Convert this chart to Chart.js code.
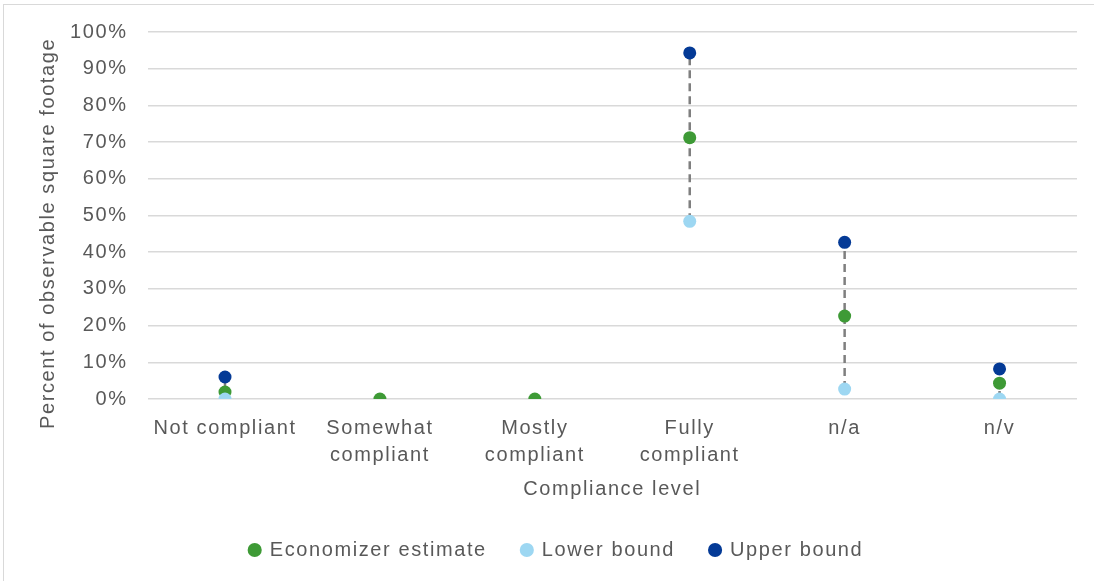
<!DOCTYPE html>
<html>
<head>
<meta charset="utf-8">
<script src="https://cdn.jsdelivr.net/npm/chart.js@4/dist/chart.umd.min.js"></script>
<style>
  html, body { margin: 0; padding: 0; background: #ffffff; }
  #wrap { position: relative; width: 1094px; height: 581px; }
  #frame { position: absolute; left: 3px; top: 4px; right: 0; bottom: 0;
           border-top: 1px solid #d9d9d9; border-left: 1px solid #d9d9d9; }
  canvas { position: absolute; left: 0; top: 0; }
</style>
</head>
<body>
<div id="wrap">
  <div id="frame"></div>
  <canvas id="chart" width="1094" height="581"></canvas>
</div>
<script>
// Compliance categories (multi-line labels are arrays)
const categories = [
  'Not compliant',
  ['Somewhat', 'compliant'],
  ['Mostly', 'compliant'],
  ['Fully', 'compliant'],
  'n/a',
  'n/v'
];

// Percent of observable square footage
const economizerEstimate = [1.9, 0, 0, 71.2, 22.6, 4.3];
const lowerBound = [0, null, null, 48.4, 2.7, 0];
const upperBound = [6.0, null, null, 94.3, 42.7, 8.2];

const yTicks = [0, 10, 20, 30, 40, 50, 60, 70, 80, 90, 100];

const textColor = '#595959';
const gridColor = '#d9d9d9';
const fontFamily = '"Liberation Sans", Arial, sans-serif';

// Dashed range connectors from lower to upper bound for each category
const connectors = [];
categories.forEach((c, i) => {
  if (lowerBound[i] != null && upperBound[i] != null) {
    connectors.push({
      type: 'line',
      label: 'range-' + i,
      data: [{ x: c, y: lowerBound[i] }, { x: c, y: upperBound[i] }],
      borderColor: '#7f7f7f',
      borderWidth: 2.5,
      borderDash: [8, 5],
      pointRadius: 0,
      pointHoverRadius: 0,
      order: 10,
      isConnector: true
    });
  }
});

const pointSet = (label, data, color, order) => ({
  label: label,
  data: data,
  showLine: false,
  pointStyle: 'circle',
  pointRadius: 6.5,
  pointHoverRadius: 6.5,
  pointBackgroundColor: color,
  pointBorderColor: color,
  backgroundColor: color,
  borderColor: color,
  borderWidth: 0,
  pointBorderWidth: 0,
  order: order
});

// Slightly spaced lettering for all chart text (applied while measuring and drawing)
const LETTER_SPACING = '1.6px';
const spacing = {
  id: 'spacing',
  beforeInit(chart) { chart.ctx.letterSpacing = LETTER_SPACING; },
  beforeUpdate(chart) { chart.ctx.letterSpacing = LETTER_SPACING; },
  beforeLayout(chart) { chart.ctx.letterSpacing = LETTER_SPACING; },
  beforeDraw(chart) { chart.ctx.letterSpacing = LETTER_SPACING; }
};

new Chart(document.getElementById('chart'), {
  type: 'line',
  data: {
    labels: categories,
    datasets: [
      pointSet('Economizer estimate', economizerEstimate, '#3e9a36', 3),
      pointSet('Lower bound', lowerBound, '#9dd7f2', 2),
      pointSet('Upper bound', upperBound, '#043a96', 1),
      ...connectors
    ]
  },
  plugins: [spacing],
  options: {
    responsive: false,
    animation: false,
    layout: { padding: { left: 36, right: 17, top: 20, bottom: 11 } },
    plugins: {
      tooltip: { enabled: false },
      legend: {
        position: 'bottom',
        labels: {
          usePointStyle: true,
          pointStyle: 'circle',
          boxWidth: 10,
          boxHeight: 10,
          padding: 35,
          color: textColor,
          font: { family: fontFamily, size: 20 },
          sort: (a, b) => a.datasetIndex - b.datasetIndex,
          filter: (item, data) => !data.datasets[item.datasetIndex].isConnector
        }
      }
    },
    scales: {
      x: {
        type: 'category',
        offset: true,
        grid: { display: false, drawTicks: false },
        border: { display: false },
        ticks: {
          color: textColor,
          font: { family: fontFamily, size: 20, lineHeight: 1.35 },
          padding: 16,
          maxRotation: 0,
          autoSkip: false
        },
        title: {
          display: true,
          text: 'Compliance level',
          color: textColor,
          font: { family: fontFamily, size: 20 },
          padding: { top: -8, bottom: 4 }
        }
      },
      y: {
        min: yTicks[0],
        max: yTicks[yTicks.length - 1],
        afterBuildTicks: (axis) => { axis.ticks = yTicks.map(v => ({ value: v })); },
        grid: { color: gridColor, lineWidth: 1.5, drawTicks: false },
        border: { display: false },
        ticks: {
          color: textColor,
          font: { family: fontFamily, size: 20 },
          padding: 20,
          callback: (v) => v + '%'
        },
        title: {
          display: true,
          text: 'Percent of observable square footage     ',
          color: textColor,
          font: { family: fontFamily, size: 20 },
          padding: { top: 0, bottom: -10 }
        }
      }
    }
  }
});
</script>
</body>
</html>
